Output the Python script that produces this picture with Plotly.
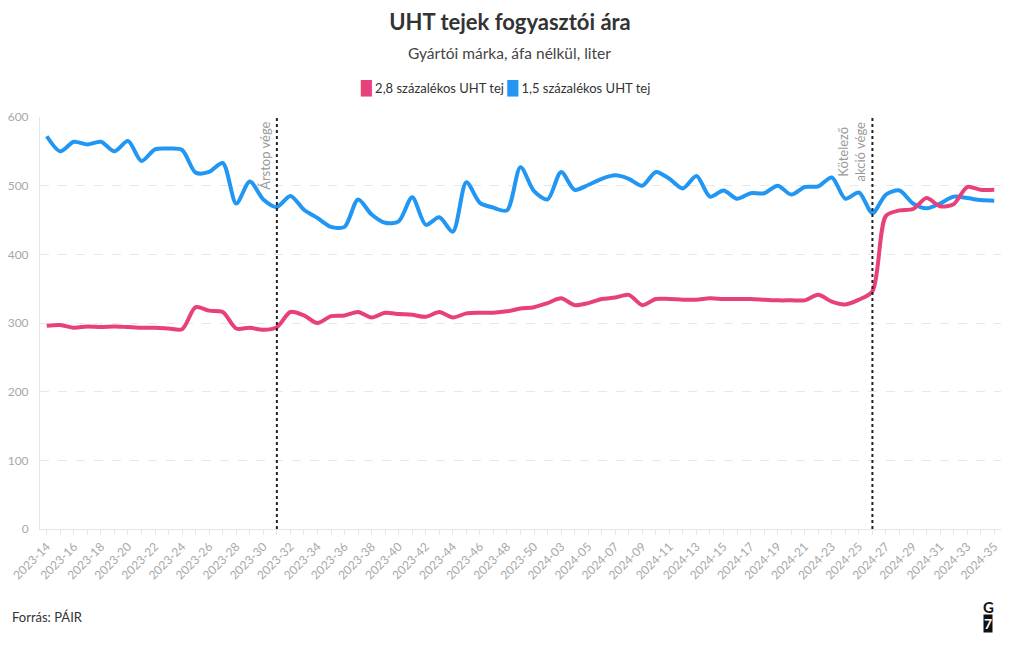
import plotly.graph_objects as go

FONT = "Lato"

weeks = [
    "2023-14", "2023-15", "2023-16", "2023-17", "2023-18", "2023-19", "2023-20",
    "2023-21", "2023-22", "2023-23", "2023-24", "2023-25", "2023-26", "2023-27",
    "2023-28", "2023-29", "2023-30", "2023-31", "2023-32", "2023-33", "2023-34",
    "2023-35", "2023-36", "2023-37", "2023-38", "2023-39", "2023-40", "2023-41",
    "2023-42", "2023-43", "2023-44", "2023-45", "2023-46", "2023-47", "2023-48",
    "2023-49", "2023-50", "2023-52", "2024-03", "2024-04", "2024-05", "2024-06",
    "2024-07", "2024-08", "2024-09", "2024-10", "2024-11", "2024-12", "2024-13",
    "2024-14", "2024-15", "2024-16", "2024-17", "2024-18", "2024-19", "2024-20",
    "2024-21", "2024-22", "2024-23", "2024-24", "2024-25", "2024-26", "2024-27",
    "2024-28", "2024-29", "2024-30", "2024-31", "2024-32", "2024-33", "2024-34",
    "2024-35",
]

# 2,8 százalékos UHT tej
milk_28 = [
    296, 297, 293, 295, 294, 295, 294, 293, 293, 292, 291, 323, 318, 316, 292,
    293, 290, 294, 316, 311, 300, 310, 311, 316, 308, 315, 313, 312, 309, 316,
    308, 314, 315, 315, 317, 321, 323, 329, 336, 326, 329, 335, 337, 341, 326,
    335, 335, 334, 334, 336, 335, 335, 335, 334, 333, 333, 333, 341, 331, 327,
    334, 346, 456, 464, 466, 482, 470, 473, 498, 494, 494,
]

# 1,5 százalékos UHT tej
milk_15 = [
    572, 550, 564, 560, 564, 550, 565, 536, 553, 554, 552, 519, 520, 533, 474,
    506, 480, 469, 485, 465, 453, 440, 440, 480, 458, 446, 448, 483, 443, 454,
    433, 505, 475, 468, 464, 527, 492, 480, 520, 494, 501, 510, 515, 510, 500,
    520, 510, 496, 514, 484, 493, 481, 489, 489, 500, 487, 498, 499, 512, 481,
    490, 460, 487, 493, 474, 467, 474, 484, 482, 479, 478,
]

series = [
    ("2,8 százalékos UHT tej", milk_28, "#e8407a"),
    ("1,5 százalékos UHT tej", milk_15, "#2196f3"),
]

events = [("2023-31", "Árstop vége"), ("2024-26", "Kötelező<br>akció vége")]

y_ticks = [0, 100, 200, 300, 400, 500, 600]

fig = go.Figure()

for name, values, color in reversed(series):
    fig.add_trace(
        go.Scatter(
            x=weeks,
            y=values,
            name=name,
            mode="lines",
            line={"color": color, "width": 4, "shape": "spline", "smoothing": 0.8},
            showlegend=False,
        )
    )

for week, label in events:
    idx = weeks.index(week)
    fig.add_shape(
        type="line",
        x0=idx,
        x1=idx,
        y0=0,
        y1=1,
        xref="x",
        yref="paper",
        line={"color": "#222", "width": 2, "dash": "dot"},
    )
    fig.add_annotation(
        x=idx,
        y=1,
        xref="x",
        yref="paper",
        text=label,
        textangle=-90,
        showarrow=False,
        xanchor="right",
        yanchor="top",
        xshift=-2,
        yshift=-3,
        align="center",
        font={"family": FONT, "size": 13, "color": "#999"},
    )

ticktext = [w if i % 2 == 0 else "" for i, w in enumerate(weeks)]

fig.update_layout(
    width=1020,
    height=650,
    paper_bgcolor="white",
    plot_bgcolor="white",
    font={"family": FONT, "color": "#333"},
    margin={"l": 40, "r": 19, "t": 117, "b": 121, "autoexpand": False},
    showlegend=False,
    title={
        "text": "<b>UHT tejek fogyasztói ára</b>",
        "x": 0.5,
        "xanchor": "center",
        "y": 0.966,
        "yanchor": "middle",
        "font": {"family": FONT, "size": 22, "color": "#333"},
    },
    xaxis={
        "type": "category",
        "range": [-0.5, len(weeks) - 0.5],
        "tickmode": "array",
        "tickvals": weeks,
        "ticktext": ticktext,
        "tickangle": -45,
        "ticks": "outside",
        "ticklen": 5,
        "tickcolor": "#e6e6e6",
        "tickfont": {"family": FONT, "size": 12, "color": "#a8a8a8"},
        "showline": True,
        "linecolor": "#e6e6e6",
        "showgrid": False,
        "automargin": False,
        "fixedrange": True,
    },
    yaxis={
        "range": [0, 600],
        "tickvals": y_ticks,
        "tickfont": {"family": FONT, "size": 12, "color": "#a8a8a8"},
        "showgrid": True,
        "gridcolor": "#e8e8e8",
        "griddash": "dash",
        "showline": True,
        "linecolor": "#e6e6e6",
        "zeroline": False,
        "ticks": "",
        "ticklabelstandoff": 8,
        "automargin": False,
        "fixedrange": True,
    },
)

# subtitle
fig.add_annotation(
    text="Gyártói márka, áfa nélkül, liter",
    x=0.489,
    y=1.155,
    xref="paper",
    yref="paper",
    yanchor="middle",
    showarrow=False,
    font={"family": FONT, "size": 15.5, "color": "#444"},
)

# legend built as text with coloured bars
legend_text = " ".join(
    f'<span style="color:{color};font-family:DejaVu Sans;font-size:14px">█</span> {name}'
    for name, _, color in series
)
fig.add_annotation(
    text=legend_text,
    x=0.484,
    y=1.070,
    xref="paper",
    yref="paper",
    yanchor="middle",
    showarrow=False,
    font={"family": FONT, "size": 13, "color": "#333"},
)

# source
fig.add_annotation(
    text="Forrás: PÁIR",
    x=-0.031,
    y=-0.2136,
    xref="paper",
    yref="paper",
    xanchor="left",
    yanchor="middle",
    showarrow=False,
    font={"family": FONT, "size": 13, "color": "#333"},
)

# G7 logo
fig.add_annotation(
    text="<b>G</b>",
    x=0.9865,
    y=-0.189,
    xref="paper",
    yref="paper",
    xanchor="center",
    yanchor="middle",
    showarrow=False,
    font={"family": FONT, "size": 15, "color": "#111"},
)
fig.add_annotation(
    text="<b>7</b>",
    x=0.9865,
    y=-0.229,
    xref="paper",
    yref="paper",
    xanchor="center",
    yanchor="middle",
    showarrow=False,
    bgcolor="#111",
    borderpad=0,
    font={"family": FONT, "size": 14, "color": "white"},
)

fig.write_html(
    "out.html",
    config={"displayModeBar": False},
    post_script="document.body.style.margin='0';",
)
